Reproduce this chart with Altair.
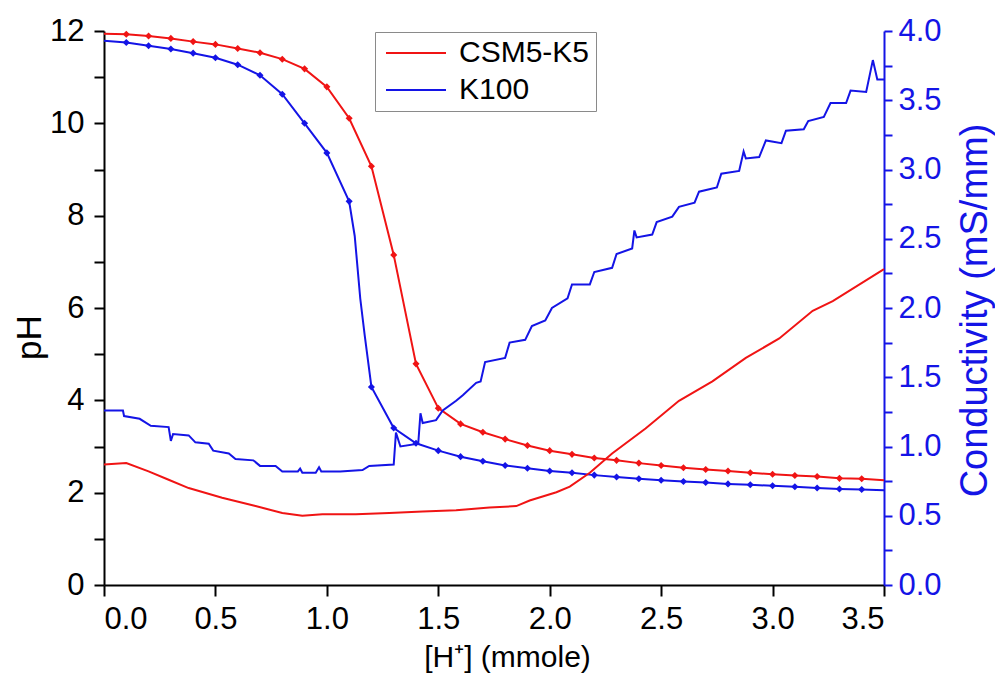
import altair as alt
import pandas as pd

series_names = ["CSM5-K5", "K100"]
series_colors = ["#f01414", "#1414e6"]

# pH titration curves (values at 0.1 mmole steps)
ph_x = [0.0, 0.1, 0.2, 0.3, 0.4, 0.5, 0.6, 0.7, 0.8, 0.9, 1.0, 1.1, 1.2, 1.3, 1.4, 1.5, 1.6, 1.7,
        1.8, 1.9, 2.0, 2.1, 2.2, 2.3, 2.4, 2.5, 2.6, 2.7, 2.8, 2.9, 3.0, 3.1, 3.2, 3.3, 3.4, 3.5]
ph_csm = [11.94, 11.93, 11.89, 11.84, 11.77, 11.71, 11.62, 11.53, 11.39, 11.18, 10.79, 10.11,
          9.07, 7.15, 4.79, 3.83, 3.49, 3.31, 3.16, 3.02, 2.91, 2.83, 2.75, 2.70, 2.64, 2.59,
          2.54, 2.50, 2.47, 2.43, 2.40, 2.37, 2.35, 2.31, 2.30, 2.27]
ph_k100 = [11.79, 11.75, 11.68, 11.61, 11.52, 11.42, 11.27, 11.04, 10.63, 10.00, 9.36, 8.31,
           4.29, 3.40, 3.07, 2.91, 2.78, 2.68, 2.59, 2.53, 2.47, 2.43, 2.38, 2.34, 2.30, 2.27,
           2.24, 2.22, 2.19, 2.17, 2.15, 2.13, 2.10, 2.08, 2.07, 2.05]
# extra K100 points on the steep drop (no markers)
k100_drop_x = [1.125, 1.15, 1.17]
k100_drop_ph = [7.56, 6.20, 5.40]

# conductivity curves
cond_csm_x = [0.00, 0.10, 0.20, 0.29, 0.38, 0.53, 0.68, 0.80, 0.89, 0.98, 1.13, 1.28, 1.43, 1.58,
              1.73, 1.85, 1.91, 2.03, 2.09, 2.18, 2.28, 2.43, 2.58, 2.73, 2.88, 3.03, 3.18, 3.27, 3.50]
cond_csm = [0.87, 0.88, 0.82, 0.76, 0.70, 0.63, 0.57, 0.52, 0.50, 0.51, 0.51, 0.52, 0.53, 0.54,
            0.56, 0.57, 0.61, 0.67, 0.71, 0.81, 0.95, 1.13, 1.33, 1.47, 1.64, 1.78, 1.98, 2.05, 2.28]

cond_k100_x = [0.00, 0.085, 0.09, 0.16, 0.21, 0.29, 0.30, 0.31, 0.38, 0.41, 0.47, 0.49, 0.56, 0.59,
               0.67, 0.70, 0.77, 0.80, 0.87, 0.88, 0.89, 0.95, 0.965, 0.975, 1.06, 1.16, 1.19, 1.30,
               1.31, 1.33, 1.41, 1.42, 1.43, 1.49, 1.52, 1.58, 1.61, 1.67, 1.69, 1.71, 1.80, 1.82,
               1.89, 1.92, 1.98, 2.01, 2.08, 2.10, 2.18, 2.20, 2.28, 2.30, 2.37, 2.38, 2.39, 2.46,
               2.48, 2.55, 2.58, 2.65, 2.67, 2.75, 2.77, 2.85, 2.87, 2.88, 2.94, 2.97, 3.04, 3.06,
               3.14, 3.16, 3.23, 3.26, 3.33, 3.35, 3.42, 3.45, 3.47, 3.50]
cond_k100 = [1.26, 1.26, 1.22, 1.20, 1.15, 1.14, 1.04, 1.09, 1.08, 1.03, 1.02, 0.97, 0.95, 0.91,
             0.90, 0.86, 0.86, 0.82, 0.82, 0.84, 0.81, 0.81, 0.85, 0.82, 0.82, 0.83, 0.86, 0.87,
             1.10, 1.00, 1.02, 1.24, 1.17, 1.19, 1.26, 1.33, 1.37, 1.46, 1.47, 1.61, 1.64, 1.75,
             1.77, 1.87, 1.91, 2.00, 2.07, 2.17, 2.17, 2.26, 2.29, 2.39, 2.43, 2.56, 2.51, 2.53,
             2.62, 2.66, 2.73, 2.76, 2.84, 2.87, 2.97, 2.99, 3.13, 3.08, 3.09, 3.21, 3.19, 3.28,
             3.29, 3.35, 3.38, 3.48, 3.48, 3.57, 3.56, 3.79, 3.65, 3.65]

x_ticks = [0.0, 0.5, 1.0, 1.5, 2.0, 2.5, 3.0, 3.5]
ph_ticks = [0, 1, 2, 3, 4, 5, 6, 7, 8, 9, 10, 11, 12]
cond_ticks = [0.0, 0.25, 0.5, 0.75, 1.0, 1.25, 1.5, 1.75, 2.0, 2.25, 2.5, 2.75, 3.0, 3.25,
              3.5, 3.75, 4.0]

FONT = "Liberation Sans"
BLUE_AX = "#1414e6"

rows = []
for x, v in zip(ph_x, ph_csm):
    rows.append({"x": x, "ph": v, "series": "CSM5-K5", "marker": 0.05 < x < 3.45})
for x, v in zip(ph_x, ph_k100):
    rows.append({"x": x, "ph": v, "series": "K100", "marker": 0.05 < x < 3.45})
for x, v in zip(k100_drop_x, k100_drop_ph):
    rows.append({"x": x, "ph": v, "series": "K100", "marker": False})
ph_df = pd.DataFrame(rows)
marker_df = ph_df[ph_df["marker"]]

crow = []
for x, v in zip(cond_csm_x, cond_csm):
    crow.append({"x": x, "cond": v, "series": "CSM5-K5"})
for x, v in zip(cond_k100_x, cond_k100):
    crow.append({"x": x, "cond": v, "series": "K100"})
cond_df = pd.DataFrame(crow)

color = alt.Color(
    "series:N",
    scale=alt.Scale(domain=series_names, range=series_colors),
    legend=alt.Legend(
        title=None, orient="none", legendX=271, legendY=1,
        symbolType="M-1,0H5", symbolSize=400, symbolStrokeWidth=2,
        labelFontSize=30, labelFont=FONT, labelColor="black", labelOffset=48,
        strokeColor="#8a8a8a", fillColor="white", padding=6, rowPadding=7,
    ),
)

xenc = alt.X(
    "x:Q",
    scale=alt.Scale(domain=[0, 3.5], nice=False, zero=False),
    axis=alt.Axis(
        values=x_ticks, format=".1f", title="[H⁺] (mmole)",
        titleFontSize=30, titleX=403, titleY=57, titleBaseline="top",
        labelFontSize=31, labelPadding=8, tickSize=11,
    ),
)

ph_y = alt.Y(
    "ph:Q",
    scale=alt.Scale(domain=[0, 12], nice=False),
    axis=alt.Axis(
        values=ph_ticks, labelExpr="datum.value % 2 == 0 ? datum.label : ''",
        title="pH", titleFontSize=35, titleAngle=270, titleAlign="center",
        titleBaseline="middle", titleX=-75, titleY=306,
        labelFontSize=31, labelPadding=10, tickSize=10,
    ),
)

ph_line = alt.Chart(ph_df).mark_line(strokeWidth=2).encode(
    x=xenc, y=ph_y, color=color
)
ph_pts = alt.Chart(marker_df).mark_point(
    shape="diamond", filled=True, size=50, opacity=1
).encode(x="x:Q", y="ph:Q", color=alt.Color("series:N"))

cond_y = alt.Y(
    "cond:Q",
    scale=alt.Scale(domain=[0, 4], nice=False),
    axis=alt.Axis(
        orient="right", values=cond_ticks,
        labelExpr="(datum.value * 2) % 1 == 0 ? format(datum.value, '.1f') : ''",
        title="Conductivity (mS/mm)", titleFontSize=38, titleAngle=270,
        titleAlign="center", titleBaseline="middle", titleX=91, titleY=279,
        labelFontSize=31, labelPadding=6, tickSize=8,
        domainColor=BLUE_AX, tickColor=BLUE_AX, labelColor=BLUE_AX, titleColor=BLUE_AX,
    ),
)
cond_line = alt.Chart(cond_df).mark_line(strokeWidth=2).encode(
    x="x:Q", y=cond_y, color=alt.Color("series:N")
)

chart = (
    alt.layer(alt.layer(ph_line, ph_pts), cond_line)
    .resolve_scale(y="independent")
    .properties(
        width=780, height=554,
        autosize=alt.AutoSizeParams(type="none"),
        padding={"left": 96, "top": 23, "right": 111, "bottom": 93},
    )
    .configure_view(stroke=None)
    .configure_axis(
        grid=False, labelFont=FONT, titleFont=FONT, titleFontWeight="normal",
        domainColor="black", tickColor="black", labelColor="black", titleColor="black",
        domainWidth=2, tickWidth=2,
    )
    .configure_legend(labelFont=FONT)
)

chart.save("out.html", embed_options={"renderer": "svg", "actions": False})
